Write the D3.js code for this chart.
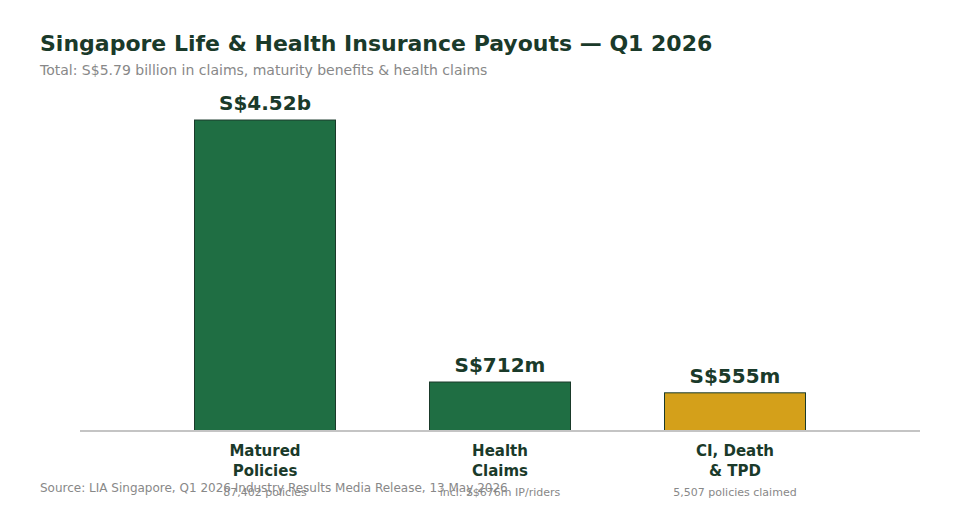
<!DOCTYPE html>
<html>
<head>
<meta charset="utf-8">
<script src="https://cdn.jsdelivr.net/npm/d3@7"></script>
<style>
  body { margin: 0; background: #fff; }
  svg { font-family: "DejaVu Sans", sans-serif; display: block; }
</style>
</head>
<body>
<div class="chart"></div>
<script>
// data
var categories = ['Matured Policies', 'Health Claims', 'CI, Death & TPD'];
var labelLines = [['Matured', 'Policies'], ['Health', 'Claims'], ['CI, Death', '& TPD']];
var payouts = [4520, 712, 555]; // S$ millions
var valueLabels = ['S$4.52b', 'S$712m', 'S$555m'];
var subLabels = ['87,402 policies', 'incl. S$676m IP/riders', '5,507 policies claimed'];
var barColors = ['#1f6e43', '#1f6e43', '#d4a01a'];

var width = 960, height = 520;
var baseY = 431;

var svg = d3.select('.chart')
  .append('svg')
    .attr('width', width)
    .attr('height', height);

var xScale = d3.scaleBand()
  .domain(categories)
  .range([147.5, 852.5])
  .paddingInner(0.4)
  .paddingOuter(0.2);

var yScale = d3.scaleLinear()
  .domain([0, 5000])
  .range([baseY, 87]);

// title + subtitle
svg.append('text')
  .attr('x', 40).attr('y', 51)
  .attr('font-size', 22).attr('font-weight', 'bold')
  .attr('fill', '#1a3a2a')
  .text('Singapore Life & Health Insurance Payouts — Q1 2026');

svg.append('text')
  .attr('x', 40).attr('y', 75)
  .attr('font-size', 14)
  .attr('fill', '#888')
  .text('Total: S$5.79 billion in claims, maturity benefits & health claims');

// bars
svg.selectAll('rect.bar')
  .data(payouts)
  .enter()
  .append('rect')
    .attr('class', 'bar')
    .attr('x', (d, i) => xScale(categories[i]))
    .attr('y', d => yScale(d))
    .attr('width', xScale.bandwidth())
    .attr('height', d => baseY - yScale(d))
    .attr('fill', (d, i) => barColors[i])
    .attr('stroke', '#1a3a2a')
    .attr('stroke-width', 1);

// value labels
svg.selectAll('text.value')
  .data(payouts)
  .enter()
  .append('text')
    .attr('class', 'value')
    .attr('x', (d, i) => xScale(categories[i]) + xScale.bandwidth() / 2)
    .attr('y', d => yScale(d) - 10)
    .attr('text-anchor', 'middle')
    .attr('font-size', 20).attr('font-weight', 'bold')
    .attr('fill', '#1a3a2a')
    .text((d, i) => valueLabels[i]);

// baseline axis
var xAxis = d3.axisBottom(xScale).tickSize(0).tickFormat('');
var axisG = svg.append('g')
  .attr('transform', 'translate(0,' + baseY + ')')
  .call(xAxis);
axisG.select('.domain').remove();
axisG.append('line')
  .attr('x1', 80).attr('x2', 920)
  .attr('stroke', '#c4c4c4').attr('stroke-width', 2);

// category labels
categories.forEach(function (c, i) {
  var cx = xScale(c) + xScale.bandwidth() / 2;
  var t = svg.append('text')
    .attr('text-anchor', 'middle')
    .attr('font-size', 15).attr('font-weight', 'bold')
    .attr('fill', '#1a3a2a');
  labelLines[i].forEach(function (line, j) {
    t.append('tspan').attr('x', cx).attr('y', 456 + j * 20).text(line);
  });
  svg.append('text')
    .attr('x', cx).attr('y', 496)
    .attr('text-anchor', 'middle')
    .attr('font-size', 11)
    .attr('fill', '#888')
    .text(subLabels[i]);
});

// source
svg.append('text')
  .attr('x', 40).attr('y', 492)
  .attr('font-size', 12)
  .attr('fill', '#888')
  .text('Source: LIA Singapore, Q1 2026 Industry Results Media Release, 13 May 2026');
</script>
</body>
</html>
